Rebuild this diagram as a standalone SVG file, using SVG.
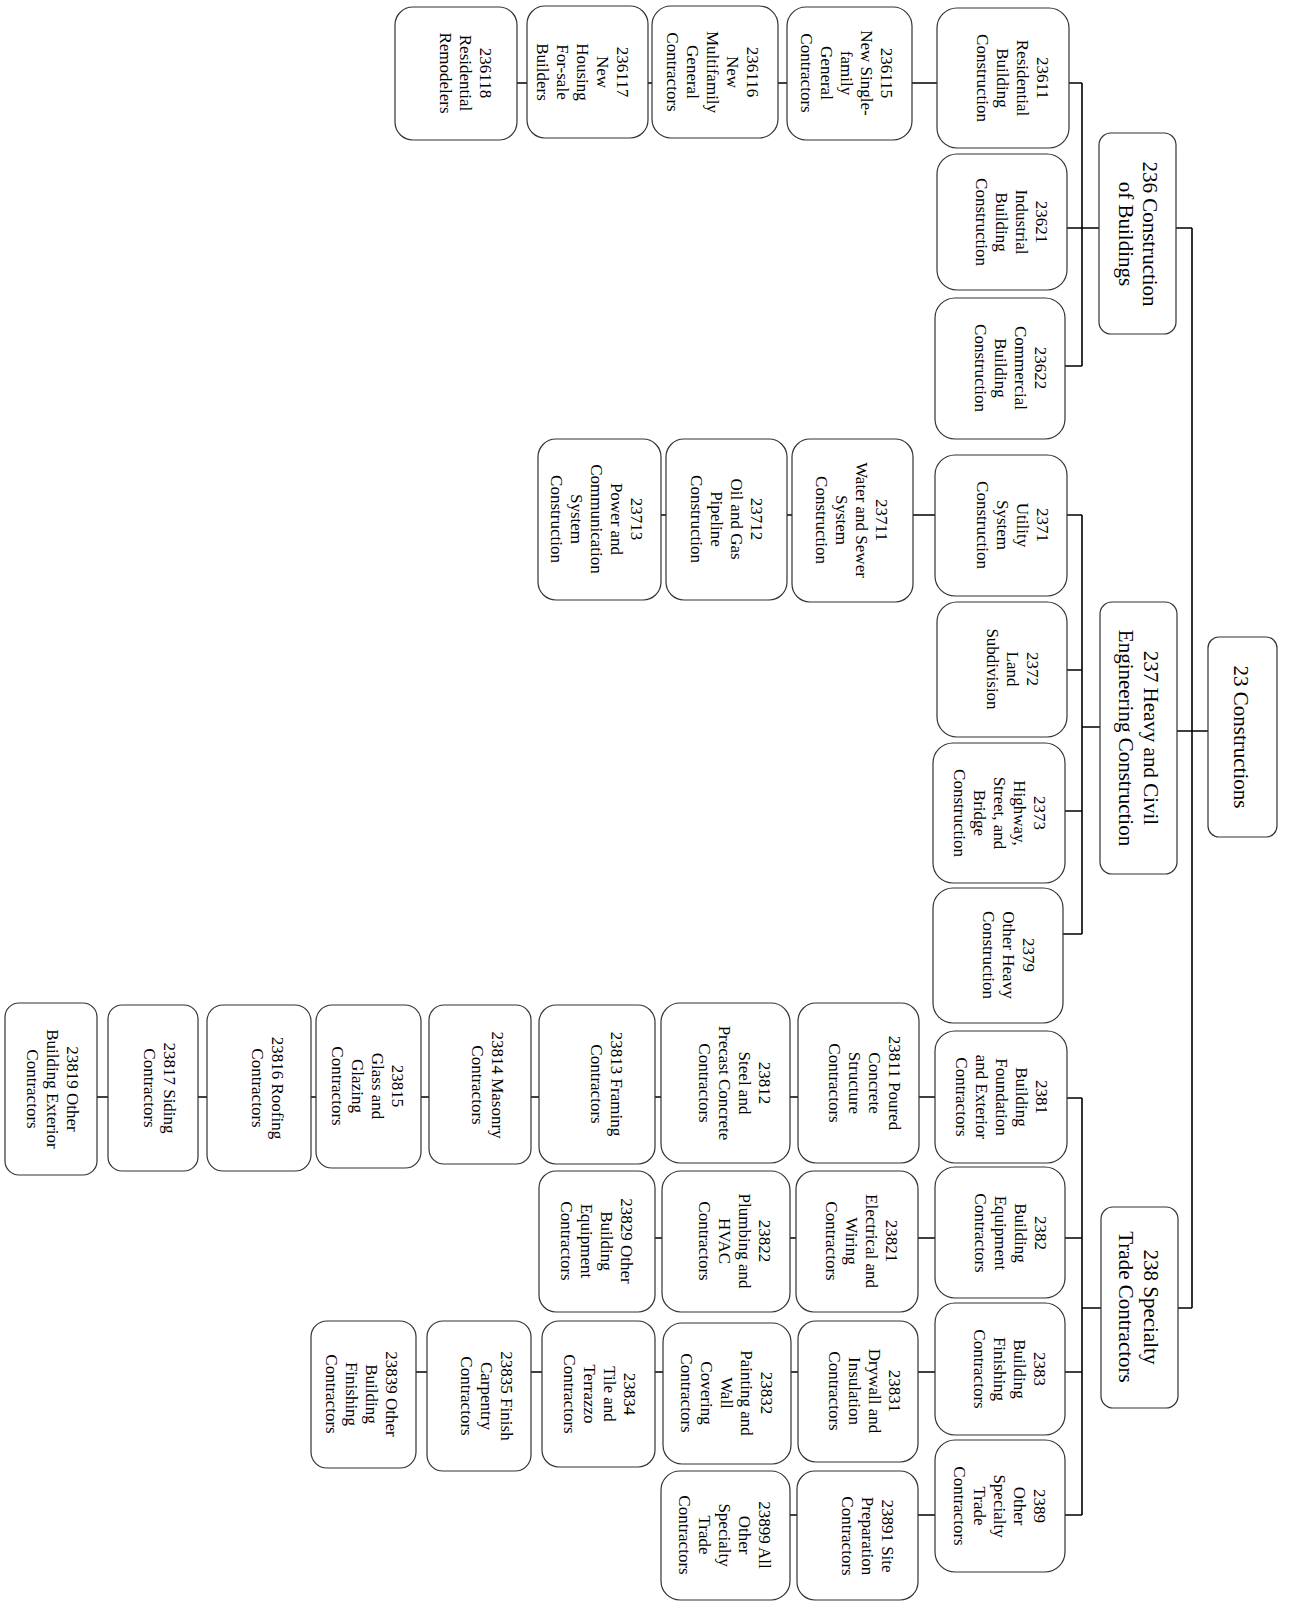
<svg xmlns="http://www.w3.org/2000/svg" width="1289" height="1602" viewBox="0 0 1289 1602">
<style>
.box{fill:#fff;stroke:#333;stroke-width:1.2}
.c{fill:none;stroke:#000;stroke-width:1.6}
.t{font-family:"Liberation Serif","Times New Roman",serif;font-size:17px;fill:#000;text-anchor:middle;dominant-baseline:central}
.tl{font-size:21px}
</style>
<rect width="1289" height="1602" fill="#fff"/>
<g id="connectors">
<path class="c" d="M1192,228V1308M1176,228H1192M1177,731H1208M1178,1308H1192"/>
<path class="c" d="M1082,83V366M1069,83H1082M1067,228H1099M1065,366H1082M912,83H937M778,83H787M648,83H652M517,83H527"/>
<path class="c" d="M1082,515V934M1067,515H1082M1067,670H1082M1082,727H1100M1065,811H1082M1063,934H1082M913,515H935M787,515H792M661,515H666"/>
<path class="c" d="M1082,1098V1515M1067,1098H1082M1065,1238H1082M1082,1308H1101M1065,1372H1082M1065,1515H1082"/>
<path class="c" d="M919,1097H935M790,1097H798M655,1097H661M531,1097H539M421,1097H429M311,1097H316M198,1097H207M97,1097H108"/>
<path class="c" d="M918,1238H935M790,1238H796M655,1238H662M918,1372H935M791,1372H798M655,1372H663M531,1372H542M416,1372H427M918,1515H935M789,1515H797"/>
</g>
<g id="n23"><rect class="box" x="1208" y="637" width="69" height="200" rx="11"/><text class="t tl" transform="translate(1241,737) rotate(90)"><tspan x="0" y="0">23 Constructions</tspan></text></g>
<g id="n236"><rect class="box" x="1099" y="133" width="77" height="201" rx="12"/><text class="t tl" transform="translate(1150,234) rotate(90)"><tspan x="0" y="0">236 Construction</tspan><tspan x="0" y="24">of Buildings</tspan></text></g>
<g id="n237"><rect class="box" x="1100" y="602" width="77" height="272" rx="12"/><text class="t tl" transform="translate(1151,738) rotate(90)"><tspan x="0" y="0">237 Heavy and Civil</tspan><tspan x="0" y="25">Engineering Construction</tspan></text></g>
<g id="n238"><rect class="box" x="1101" y="1207" width="77" height="201" rx="12"/><text class="t tl" transform="translate(1151,1307) rotate(90)"><tspan x="0" y="0">238 Specialty</tspan><tspan x="0" y="25">Trade Contractors</tspan></text></g>

<g id="n23611"><rect class="box" x="937" y="8" width="132" height="140" rx="20"/><text class="t" transform="translate(1043,78) rotate(90)"><tspan x="0" y="0">23611</tspan><tspan x="0" y="20">Residential</tspan><tspan x="0" y="40">Building</tspan><tspan x="0" y="60">Construction</tspan></text></g>
<g id="n23621"><rect class="box" x="937" y="154" width="130" height="136" rx="20"/><text class="t" transform="translate(1042,222) rotate(90)"><tspan x="0" y="0">23621</tspan><tspan x="0" y="20">Industrial</tspan><tspan x="0" y="40">Building</tspan><tspan x="0" y="60">Construction</tspan></text></g>
<g id="n23622"><rect class="box" x="935" y="298" width="130" height="141" rx="20"/><text class="t" transform="translate(1041,368) rotate(90)"><tspan x="0" y="0">23622</tspan><tspan x="0" y="20">Commercial</tspan><tspan x="0" y="40">Building</tspan><tspan x="0" y="60">Construction</tspan></text></g>
<g id="n236115"><rect class="box" x="787" y="7" width="125" height="133" rx="19"/><text class="t" transform="translate(887,73) rotate(90)"><tspan x="0" y="0">236115</tspan><tspan x="0" y="20">New Single-</tspan><tspan x="0" y="40">family</tspan><tspan x="0" y="60">General</tspan><tspan x="0" y="80">Contractors</tspan></text></g>
<g id="n236116"><rect class="box" x="652" y="6" width="126" height="132" rx="19"/><text class="t" transform="translate(753,72) rotate(90)"><tspan x="0" y="0">236116</tspan><tspan x="0" y="20">New</tspan><tspan x="0" y="40">Multifamily</tspan><tspan x="0" y="60">General</tspan><tspan x="0" y="80">Contractors</tspan></text></g>
<g id="n236117"><rect class="box" x="527" y="6" width="121" height="132" rx="18"/><text class="t" transform="translate(623,72) rotate(90)"><tspan x="0" y="0">236117</tspan><tspan x="0" y="20">New</tspan><tspan x="0" y="40">Housing</tspan><tspan x="0" y="60">For-sale</tspan><tspan x="0" y="80">Builders</tspan></text></g>
<g id="n236118"><rect class="box" x="395" y="7" width="122" height="133" rx="18"/><text class="t" transform="translate(486,73) rotate(90)"><tspan x="0" y="0">236118</tspan><tspan x="0" y="20">Residential</tspan><tspan x="0" y="40">Remodelers</tspan></text></g>

<g id="n2371"><rect class="box" x="935" y="455" width="132" height="141" rx="20"/><text class="t" transform="translate(1043,525) rotate(90)"><tspan x="0" y="0">2371</tspan><tspan x="0" y="20">Utility</tspan><tspan x="0" y="40">System</tspan><tspan x="0" y="60">Construction</tspan></text></g>
<g id="n2372"><rect class="box" x="937" y="602" width="130" height="135" rx="20"/><text class="t" transform="translate(1033,669) rotate(90)"><tspan x="0" y="0">2372</tspan><tspan x="0" y="20">Land</tspan><tspan x="0" y="40">Subdivision</tspan></text></g>
<g id="n2373"><rect class="box" x="933" y="743" width="132" height="140" rx="20"/><text class="t" transform="translate(1040,813) rotate(90)"><tspan x="0" y="0">2373</tspan><tspan x="0" y="20">Highway,</tspan><tspan x="0" y="40">Street, and</tspan><tspan x="0" y="60">Bridge</tspan><tspan x="0" y="80">Construction</tspan></text></g>
<g id="n2379"><rect class="box" x="933" y="888" width="130" height="135" rx="20"/><text class="t" transform="translate(1029,955) rotate(90)"><tspan x="0" y="0">2379</tspan><tspan x="0" y="20">Other Heavy</tspan><tspan x="0" y="40">Construction</tspan></text></g>
<g id="n23711"><rect class="box" x="792" y="439" width="121" height="163" rx="18"/><text class="t" transform="translate(882,520) rotate(90)"><tspan x="0" y="0">23711</tspan><tspan x="0" y="20">Water and Sewer</tspan><tspan x="0" y="40">System</tspan><tspan x="0" y="60">Construction</tspan></text></g>
<g id="n23712"><rect class="box" x="666" y="439" width="121" height="161" rx="18"/><text class="t" transform="translate(757,519) rotate(90)"><tspan x="0" y="0">23712</tspan><tspan x="0" y="20">Oil and Gas</tspan><tspan x="0" y="40">Pipeline</tspan><tspan x="0" y="60">Construction</tspan></text></g>
<g id="n23713"><rect class="box" x="538" y="439" width="123" height="161" rx="18"/><text class="t" transform="translate(637,519) rotate(90)"><tspan x="0" y="0">23713</tspan><tspan x="0" y="20">Power and</tspan><tspan x="0" y="40">Communication</tspan><tspan x="0" y="60">System</tspan><tspan x="0" y="80">Construction</tspan></text></g>

<g id="n2381"><rect class="box" x="935" y="1031" width="132" height="132" rx="20"/><text class="t" transform="translate(1042,1097) rotate(90)"><tspan x="0" y="0">2381</tspan><tspan x="0" y="20">Building</tspan><tspan x="0" y="40">Foundation</tspan><tspan x="0" y="60">and Exterior</tspan><tspan x="0" y="80">Contractors</tspan></text></g>
<g id="n2382"><rect class="box" x="935" y="1167" width="130" height="131" rx="20"/><text class="t" transform="translate(1041,1233) rotate(90)"><tspan x="0" y="0">2382</tspan><tspan x="0" y="20">Building</tspan><tspan x="0" y="40">Equipment</tspan><tspan x="0" y="60">Contractors</tspan></text></g>
<g id="n2383"><rect class="box" x="935" y="1303" width="130" height="132" rx="20"/><text class="t" transform="translate(1040,1369) rotate(90)"><tspan x="0" y="0">2383</tspan><tspan x="0" y="20">Building</tspan><tspan x="0" y="40">Finishing</tspan><tspan x="0" y="60">Contractors</tspan></text></g>
<g id="n2389"><rect class="box" x="935" y="1440" width="130" height="132" rx="20"/><text class="t" transform="translate(1040,1506) rotate(90)"><tspan x="0" y="0">2389</tspan><tspan x="0" y="20">Other</tspan><tspan x="0" y="40">Specialty</tspan><tspan x="0" y="60">Trade</tspan><tspan x="0" y="80">Contractors</tspan></text></g>

<g id="n23811"><rect class="box" x="798" y="1003" width="121" height="160" rx="18"/><text class="t" transform="translate(895,1083) rotate(90)"><tspan x="0" y="0">23811 Poured</tspan><tspan x="0" y="20">Concrete</tspan><tspan x="0" y="40">Structure</tspan><tspan x="0" y="60">Contractors</tspan></text></g>
<g id="n23812"><rect class="box" x="661" y="1003" width="129" height="160" rx="19"/><text class="t" transform="translate(765,1083) rotate(90)"><tspan x="0" y="0">23812</tspan><tspan x="0" y="20">Steel and</tspan><tspan x="0" y="40">Precast Concrete</tspan><tspan x="0" y="60">Contractors</tspan></text></g>
<g id="n23813"><rect class="box" x="539" y="1005" width="116" height="159" rx="17"/><text class="t" transform="translate(617,1084) rotate(90)"><tspan x="0" y="0">23813 Framing</tspan><tspan x="0" y="20">Contractors</tspan></text></g>
<g id="n23814"><rect class="box" x="429" y="1005" width="102" height="159" rx="15"/><text class="t" transform="translate(498,1085) rotate(90)"><tspan x="0" y="0">23814 Masonry</tspan><tspan x="0" y="20">Contractors</tspan></text></g>
<g id="n23815"><rect class="box" x="316" y="1005" width="105" height="163" rx="16"/><text class="t" transform="translate(398,1086) rotate(90)"><tspan x="0" y="0">23815</tspan><tspan x="0" y="20">Glass and</tspan><tspan x="0" y="40">Glazing</tspan><tspan x="0" y="60">Contractors</tspan></text></g>
<g id="n23816"><rect class="box" x="207" y="1005" width="104" height="166" rx="16"/><text class="t" transform="translate(278,1088) rotate(90)"><tspan x="0" y="0">23816 Roofing</tspan><tspan x="0" y="20">Contractors</tspan></text></g>
<g id="n23817"><rect class="box" x="108" y="1005" width="90" height="166" rx="14"/><text class="t" transform="translate(170,1088) rotate(90)"><tspan x="0" y="0">23817 Siding</tspan><tspan x="0" y="20">Contractors</tspan></text></g>
<g id="n23819"><rect class="box" x="5" y="1003" width="92" height="172" rx="14"/><text class="t" transform="translate(73,1089) rotate(90)"><tspan x="0" y="0">23819 Other</tspan><tspan x="0" y="20">Building Exterior</tspan><tspan x="0" y="40">Contractors</tspan></text></g>

<g id="n23821"><rect class="box" x="796" y="1171" width="122" height="141" rx="18"/><text class="t" transform="translate(892,1241) rotate(90)"><tspan x="0" y="0">23821</tspan><tspan x="0" y="20">Electrical and</tspan><tspan x="0" y="40">Wiring</tspan><tspan x="0" y="60">Contractors</tspan></text></g>
<g id="n23822"><rect class="box" x="662" y="1171" width="128" height="141" rx="19"/><text class="t" transform="translate(765,1241) rotate(90)"><tspan x="0" y="0">23822</tspan><tspan x="0" y="20">Plumbing and</tspan><tspan x="0" y="40">HVAC</tspan><tspan x="0" y="60">Contractors</tspan></text></g>
<g id="n23829"><rect class="box" x="539" y="1171" width="116" height="141" rx="17"/><text class="t" transform="translate(627,1241) rotate(90)"><tspan x="0" y="0">23829 Other</tspan><tspan x="0" y="20">Building</tspan><tspan x="0" y="40">Equipment</tspan><tspan x="0" y="60">Contractors</tspan></text></g>

<g id="n23831"><rect class="box" x="798" y="1321" width="120" height="141" rx="18"/><text class="t" transform="translate(895,1391) rotate(90)"><tspan x="0" y="0">23831</tspan><tspan x="0" y="20">Drywall and</tspan><tspan x="0" y="40">Insulation</tspan><tspan x="0" y="60">Contractors</tspan></text></g>
<g id="n23832"><rect class="box" x="663" y="1323" width="128" height="141" rx="19"/><text class="t" transform="translate(767,1393) rotate(90)"><tspan x="0" y="0">23832</tspan><tspan x="0" y="20">Painting and</tspan><tspan x="0" y="40">Wall</tspan><tspan x="0" y="60">Covering</tspan><tspan x="0" y="80">Contractors</tspan></text></g>
<g id="n23834"><rect class="box" x="542" y="1321" width="113" height="146" rx="17"/><text class="t" transform="translate(630,1394) rotate(90)"><tspan x="0" y="0">23834</tspan><tspan x="0" y="20">Tile and</tspan><tspan x="0" y="40">Terrazzo</tspan><tspan x="0" y="60">Contractors</tspan></text></g>
<g id="n23835"><rect class="box" x="427" y="1321" width="104" height="150" rx="16"/><text class="t" transform="translate(507,1396) rotate(90)"><tspan x="0" y="0">23835 Finish</tspan><tspan x="0" y="20">Carpentry</tspan><tspan x="0" y="40">Contractors</tspan></text></g>
<g id="n23839"><rect class="box" x="311" y="1321" width="105" height="147" rx="16"/><text class="t" transform="translate(392,1394) rotate(90)"><tspan x="0" y="0">23839 Other</tspan><tspan x="0" y="20">Building</tspan><tspan x="0" y="40">Finishing</tspan><tspan x="0" y="60">Contractors</tspan></text></g>

<g id="n23891"><rect class="box" x="797" y="1471" width="121" height="129" rx="18"/><text class="t" transform="translate(888,1536) rotate(90)"><tspan x="0" y="0">23891 Site</tspan><tspan x="0" y="20">Preparation</tspan><tspan x="0" y="40">Contractors</tspan></text></g>
<g id="n23899"><rect class="box" x="661" y="1471" width="129" height="129" rx="19"/><text class="t" transform="translate(765,1535) rotate(90)"><tspan x="0" y="0">23899 All</tspan><tspan x="0" y="20">Other</tspan><tspan x="0" y="40">Specialty</tspan><tspan x="0" y="60">Trade</tspan><tspan x="0" y="80">Contractors</tspan></text></g>
</svg>
